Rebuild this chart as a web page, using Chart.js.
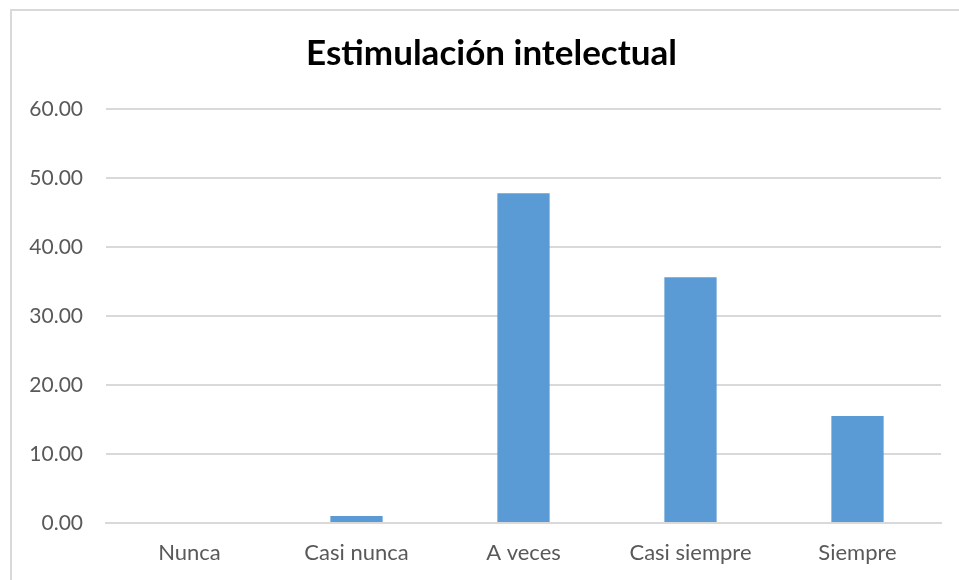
<!DOCTYPE html>
<html>
<head>
<meta charset="utf-8">
<script src="https://cdn.jsdelivr.net/npm/chart.js@4"></script>
<style>
  html, body { margin: 0; padding: 0; background: #fff; overflow: hidden; }
  #wrap { position: relative; width: 959px; height: 580px; }
  #frame {
    position: absolute; left: 10px; top: 9px; width: 960px; height: 600px;
    border-left: 2px solid #d9d9d9; border-top: 2px solid #d9d9d9;
    pointer-events: none;
  }
  canvas { position: absolute; left: 0; top: 0; }
</style>
</head>
<body>
<div id="wrap">
  <canvas id="myChart" width="959" height="580"></canvas>
  <div id="frame"></div>
</div>
<script>
const categories = ['Nunca', 'Casi nunca', 'A veces', 'Casi siempre', 'Siempre'];
const values = [0, 1.0, 47.8, 35.6, 15.5];
const yTicks = [0, 10, 20, 30, 40, 50, 60];

const font = "Lato, 'Open Sans', sans-serif";

const canvas = document.getElementById('myChart');

const data = {
  labels: categories,
  datasets: [{
    label: 'Estimulación intelectual',
    data: values,
    backgroundColor: '#5b9bd5',
    borderWidth: 0,
    barPercentage: 0.313,
    categoryPercentage: 1
  }]
}

const config = {
  type: 'bar',
  data,
  options: {
    responsive: false,
    animation: false,
    layout: { padding: { left: 28, right: 18, top: 0, bottom: 0 } },
    plugins: {
      legend: { display: false },
      tooltip: { enabled: false },
      title: {
        display: true,
        text: 'Estimulación intelectual',
        color: '#000',
        font: { family: font, size: 35, weight: 'bold' },
        padding: { top: 33, bottom: 34 }
      }
    },
    scales: {
      x: {
        afterFit: (axis) => { axis.height = 57 },
        grid: { display: false, drawTicks: false },
        border: { color: '#d9d9d9', width: 2 },
        ticks: { color: '#595959', font: { family: font, size: 22 }, padding: 17 }
      },
      y: {
        min: yTicks[0],
        max: yTicks[yTicks.length - 1],
        afterBuildTicks: (axis) => { axis.ticks = yTicks.map(v => ({ value: v })) },
        afterFit: (axis) => { axis.width = 78 },
        grid: { color: '#d9d9d9', lineWidth: 2, drawTicks: false },
        border: { display: false },
        ticks: {
          color: '#595959',
          font: { family: font, size: 21 },
          padding: 23,
          callback: (v) => Number(v).toFixed(2)
        }
      }
    }
  },
  plugins: [{
    id: 'bg',
    beforeDraw(chart) {
      const ctx = chart.ctx;
      ctx.save();
      ctx.fillStyle = '#fff';
      ctx.fillRect(0, 0, chart.width, chart.height);
      ctx.restore();
    }
  }, {
    // Excel centres the title on the whole frame, a bit right of the plot
    id: 'titleShift',
    afterLayout(chart) {
      const t = chart.titleBlock;
      if (t) { t.left += 7; t.right += 7; }
    }
  }]
}

const chart = new Chart(canvas, config)
</script>
</body>
</html>
